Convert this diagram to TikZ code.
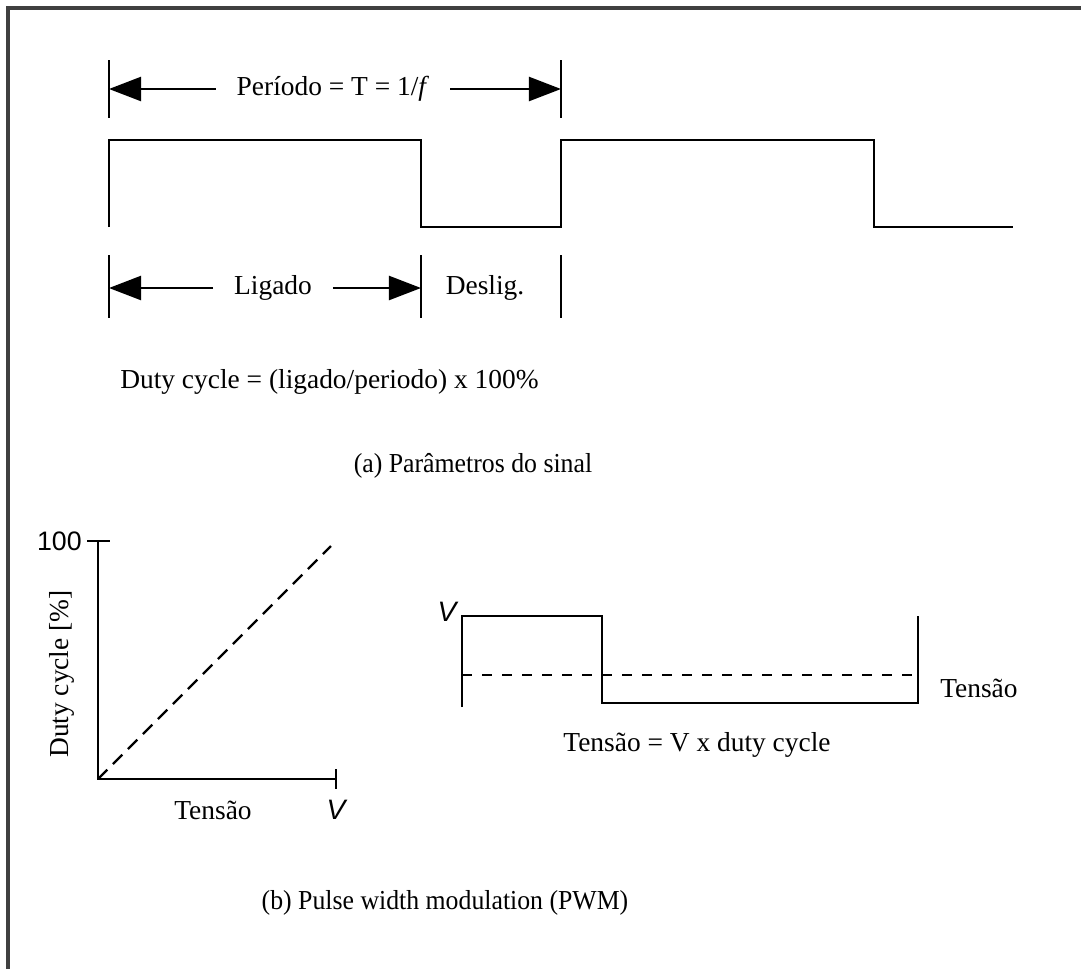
\documentclass[tikz,border=0pt]{standalone}
\usepackage{fontspec}
\setmainfont{Liberation Serif}
\setsansfont{Liberation Sans}
\usetikzlibrary{arrows.meta, positioning, calc}

\tikzset{
  wave/.style={line width=2pt, line join=miter},
  tickline/.style={line width=2pt},
  dimarrow/.style={line width=1.6pt, -{Triangle[length=0.8cm, width=0.6cm]}},
  lbl/.style={font=\fontsize{19.5}{23}\selectfont, inner sep=0pt},
  dimlbl/.style={lbl, inner xsep=0.52cm},
  caption/.style={lbl, xscale=0.94},
  vlbl/.style={font=\fontsize{20}{24}\selectfont\sffamily\itshape, inner sep=0pt},
}

\begin{document}
\begin{tikzpicture}[x=0.025cm, y=-0.025cm]
    \useasboundingbox (0,0) rectangle (1081,969);
    % frame, only the top and left edges show
    \draw[line width=2.2pt, black!75] (1081,8) -- (8,8) -- (8,969);

    % (a) signal: edges of the square wave
    \def\xa{109}
    \def\xb{421}
    \def\xc{561}
    \def\xd{874}
    \def\xe{1013}
    \def\yhi{140}
    \def\ylo{227}

    \draw[wave] (\xa,\ylo) -- (\xa,\yhi) -- (\xb,\yhi) -- (\xb,\ylo) -- (\xc,\ylo)
        -- (\xc,\yhi) -- (\xd,\yhi) -- (\xd,\ylo) -- (\xe,\ylo);

    % Period
    \draw[tickline] (\xa,60) -- (\xa,118);
    \draw[tickline] (\xc,60) -- (\xc,118);
    \coordinate (pA) at (\xa,89);
    \coordinate (pC) at (\xc,89);
    \node[dimlbl] (periodo) at (333,89) {Período = T = 1/\textit{f}};
    \draw[dimarrow] (periodo.west) -- (pA);
    \draw[dimarrow] (periodo.east) -- (pC);

    % On / off
    \draw[tickline] (\xa,255) -- (\xa,318);
    \draw[tickline] (\xb,255) -- (\xb,318);
    \draw[tickline] (\xc,255) -- (\xc,318);
    \coordinate (lA) at (\xa,288);
    \coordinate (lB) at (\xb,288);
    \node[dimlbl] (ligado) at (273,288) {Ligado};
    \node[lbl] (deslig) at (485,288) {Deslig.};
    \draw[dimarrow] (ligado.west) -- (lA);
    \draw[dimarrow] (ligado.east) -- (lB);

    \node[lbl, anchor=west] (duty) at (120,382) {Duty cycle = (ligado/periodo) x 100\%};
    \node[caption] (capA) at (473,466) {(a) Parâmetros do sinal};

    % (b) duty cycle vs voltage
    \coordinate (O) at (98,779);
    \coordinate (yTop) at (98,541);
    \coordinate (xEnd) at (336,779);
    \draw[line width=2pt] (yTop) -- (O) -- (xEnd);
    \draw[line width=2pt] (87,541) -- (110,541);
    \draw[line width=2pt] (336,769) -- (336,789);
    \draw[line width=1.7pt, dash pattern=on 0.33cm off 0.2cm] (O) -- (331,546);
    \node[font=\fontsize{19}{23}\selectfont\sffamily, inner sep=0pt, anchor=east] (cem) at (82,541) {100};
    \node[lbl, rotate=90] (eixoY) at (62,674) {Duty cycle [\%]};
    \node[lbl] (eixoX) at (213,810) {Tensão};
    \node[vlbl] (vX) at (336,810) {V};

    % PWM output
    \draw[wave] (462,707) -- (462,616) -- (602,616) -- (602,703) -- (918,703) -- (918,616);
    \draw[line width=1.7pt, dash pattern=on 0.25cm off 0.25cm] (462,675) -- (918,675);
    \node[vlbl] (vTop) at (447,612) {V};
    \node[lbl, anchor=west] (tensao) at (940,688) {Tensão};
    \node[lbl] (formula) at (697,745) {Tensão = V x duty cycle};

    \node[caption] (capB) at (445,903) {(b) Pulse width modulation (PWM)};
\end{tikzpicture}
\end{document}
